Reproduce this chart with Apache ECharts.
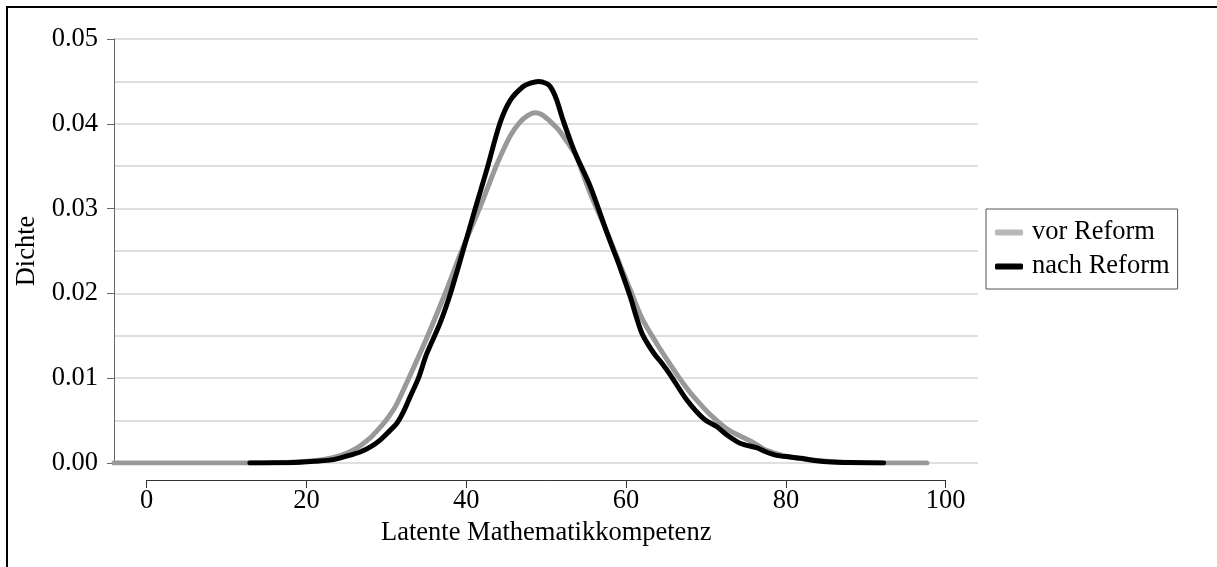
<!DOCTYPE html>
<html>
<head>
<meta charset="utf-8">
<script src="https://cdn.jsdelivr.net/npm/echarts@6.0.0/dist/echarts.min.js"></script>
<style>
html,body{margin:0;padding:0;background:#fff;}
#chart{width:1217px;height:567px;}
</style>
</head>
<body>
<div id="chart"></div>
<script>
// ---- data ----
const xVor = [-4.1, 0, 5, 10, 15, 18, 20, 22, 24, 26, 28, 29.2, 30, 31.2, 32.5, 33.8, 35.2, 37.3, 39.3, 40.5, 41.5, 42.55, 43.8, 45.5, 46.7, 47.7, 48.6, 49.4, 50.1, 51, 51.7, 53, 53.8, 55, 55.7, 57.6, 59.2, 60.5, 62, 63.8, 65.3, 66.8, 68, 69.2, 70.5, 72.6, 74, 75.9, 77.3, 78.8, 80, 82, 85, 88, 92, 97.6];
const yVor = [0, 0, 0, 0, 0.00002, 0.00008, 0.0002, 0.0004, 0.0008, 0.0016, 0.0030, 0.0042, 0.0051, 0.0068, 0.0094, 0.0121, 0.0151, 0.0199, 0.0248, 0.0275, 0.0297, 0.0322, 0.0352, 0.0386, 0.0402, 0.0410, 0.0413, 0.0411, 0.0406, 0.0398, 0.0391, 0.0373, 0.0361, 0.0330, 0.0313, 0.0272, 0.0234, 0.0204, 0.0170, 0.0141, 0.0119, 0.0098, 0.0083, 0.0070, 0.0057, 0.0040, 0.0033, 0.0024, 0.0016, 0.0011, 0.0008, 0.0005, 0.0002, 0.00006, 0.00001, 0];
const xNach = [12.9, 16, 19.2, 21, 23.4, 25, 26.7, 28, 29.2, 30.3, 31.3, 32.1, 32.95, 34, 35, 36.7, 38, 39.6, 41.1, 42.55, 44.2, 45.5, 47.1, 48, 49, 49.6, 50.3, 50.8, 51.3, 52.1, 53.2, 53.8, 55.5, 57.6, 58.4, 59.2, 60.5, 61.2, 62, 63.4, 64.5, 65.5, 67.6, 69.7, 71.3, 72.6, 74.3, 76.3, 77.5, 78.8, 80.5, 81.8, 83.5, 85.1, 88, 92.2];
const yNach = [0, 0.00002, 0.0001, 0.0002, 0.0004, 0.0008, 0.0013, 0.0019, 0.0027, 0.0037, 0.0047, 0.0060, 0.0078, 0.0100, 0.0128, 0.0165, 0.0200, 0.0251, 0.0300, 0.0346, 0.0401, 0.0428, 0.0444, 0.0448, 0.0450, 0.0449, 0.0446, 0.0439, 0.0428, 0.0404, 0.0375, 0.0361, 0.0326, 0.0271, 0.0251, 0.0231, 0.0196, 0.0174, 0.0152, 0.0130, 0.0117, 0.0104, 0.0074, 0.0052, 0.0043, 0.0033, 0.0023, 0.0018, 0.0013, 0.0009, 0.0007, 0.00055, 0.0003, 0.00015, 0.00005, 0];
const seriesNames = ['vor Reform', 'nach Reform'];
const xTicks = [0, 20, 40, 60, 80, 100];
const yTicks = [0, 0.01, 0.02, 0.03, 0.04, 0.05];

const FONT = 'Liberation Serif';
const FS = 26.5;
const pairs = (xs, ys) => xs.map((x, i) => [x, ys[i]]);

const chart = echarts.init(document.getElementById('chart'), null, {renderer: 'canvas'});
chart.setOption({
  animation: false,
  backgroundColor: '#fff',
  textStyle: {fontFamily: FONT, color: '#000'},
  graphic: [{
    type: 'rect', silent: true,
    shape: {x: 7, y: 7, width: 1400, height: 800},
    style: {fill: 'none', stroke: '#000', lineWidth: 2}
  }],
  grid: [
    {left: 114, right: 239, top: 39, bottom: 104},
    {left: 146.7, right: 271.3, top: 39, bottom: 87}
  ],
  legend: {
    orient: 'vertical',
    left: 986, top: 209,
    padding: [10, 8, 9, 9],
    itemGap: 7,
    itemWidth: 28, itemHeight: 6,
    icon: 'roundRect',
    borderColor: '#555', borderWidth: 1, borderRadius: 0,
    textStyle: {fontFamily: FONT, fontSize: FS, color: '#000', padding: [3, 0, 0, 4]},
    data: [
      {name: seriesNames[0], itemStyle: {color: '#b8b8b8'}},
      {name: seriesNames[1], itemStyle: {color: '#000'}}
    ]
  },
  xAxis: [
    {type: 'value', gridIndex: 0, min: -4.09, max: 104.0, show: false},
    {type: 'value', gridIndex: 1, min: xTicks[0], max: xTicks[xTicks.length - 1], interval: 20,
     position: 'bottom',
     name: 'Latente Mathematikkompetenz', nameLocation: 'middle', nameGap: 34,
     nameTextStyle: {fontFamily: FONT, fontSize: FS, color: '#000'},
     axisLine: {show: true, onZero: false, lineStyle: {color: '#333', width: 1}},
     axisTick: {show: true, inside: false, length: 8, lineStyle: {color: '#333', width: 1}},
     axisLabel: {show: true, margin: 8, fontFamily: FONT, fontSize: FS, color: '#000', showMinLabel: true, showMaxLabel: true},
     splitLine: {show: false}}
  ],
  yAxis: [
    {type: 'value', gridIndex: 0, min: yTicks[0], max: yTicks[yTicks.length - 1], interval: 0.01,
     name: 'Dichte', nameLocation: 'middle', nameGap: 73, nameRotate: 90,
     nameTextStyle: {fontFamily: FONT, fontSize: FS, color: '#000'},
     axisLine: {show: true, onZero: false, lineStyle: {color: '#666', width: 1}},
     axisTick: {show: true, inside: false, length: 7, lineStyle: {color: '#666', width: 1}},
     axisLabel: {show: true, margin: 16, fontFamily: FONT, fontSize: FS, color: '#000',
                 formatter: v => v.toFixed(2), showMinLabel: true, showMaxLabel: true},
     splitLine: {show: true, lineStyle: {color: '#d4d4d4', width: 1.5}},
     minorTick: {show: false, splitNumber: 2},
     minorSplitLine: {show: true, lineStyle: {color: '#d4d4d4', width: 1.5}}},
    {type: 'value', gridIndex: 1, min: 0, max: 1, show: false}
  ],
  series: [
    {name: seriesNames[0], type: 'line', xAxisIndex: 0, yAxisIndex: 0,
     data: pairs(xVor, yVor), smooth: 0.3, showSymbol: false, symbol: 'none',
     lineStyle: {color: '#999', width: 5, cap: 'round', join: 'round'},
     itemStyle: {color: '#b8b8b8'}, z: 2},
    {name: seriesNames[1], type: 'line', xAxisIndex: 0, yAxisIndex: 0,
     data: pairs(xNach, yNach), smooth: 0.3, showSymbol: false, symbol: 'none',
     lineStyle: {color: '#000', width: 5, cap: 'round', join: 'round'},
     itemStyle: {color: '#000'}, z: 3}
  ]
});
</script>
</body>
</html>
